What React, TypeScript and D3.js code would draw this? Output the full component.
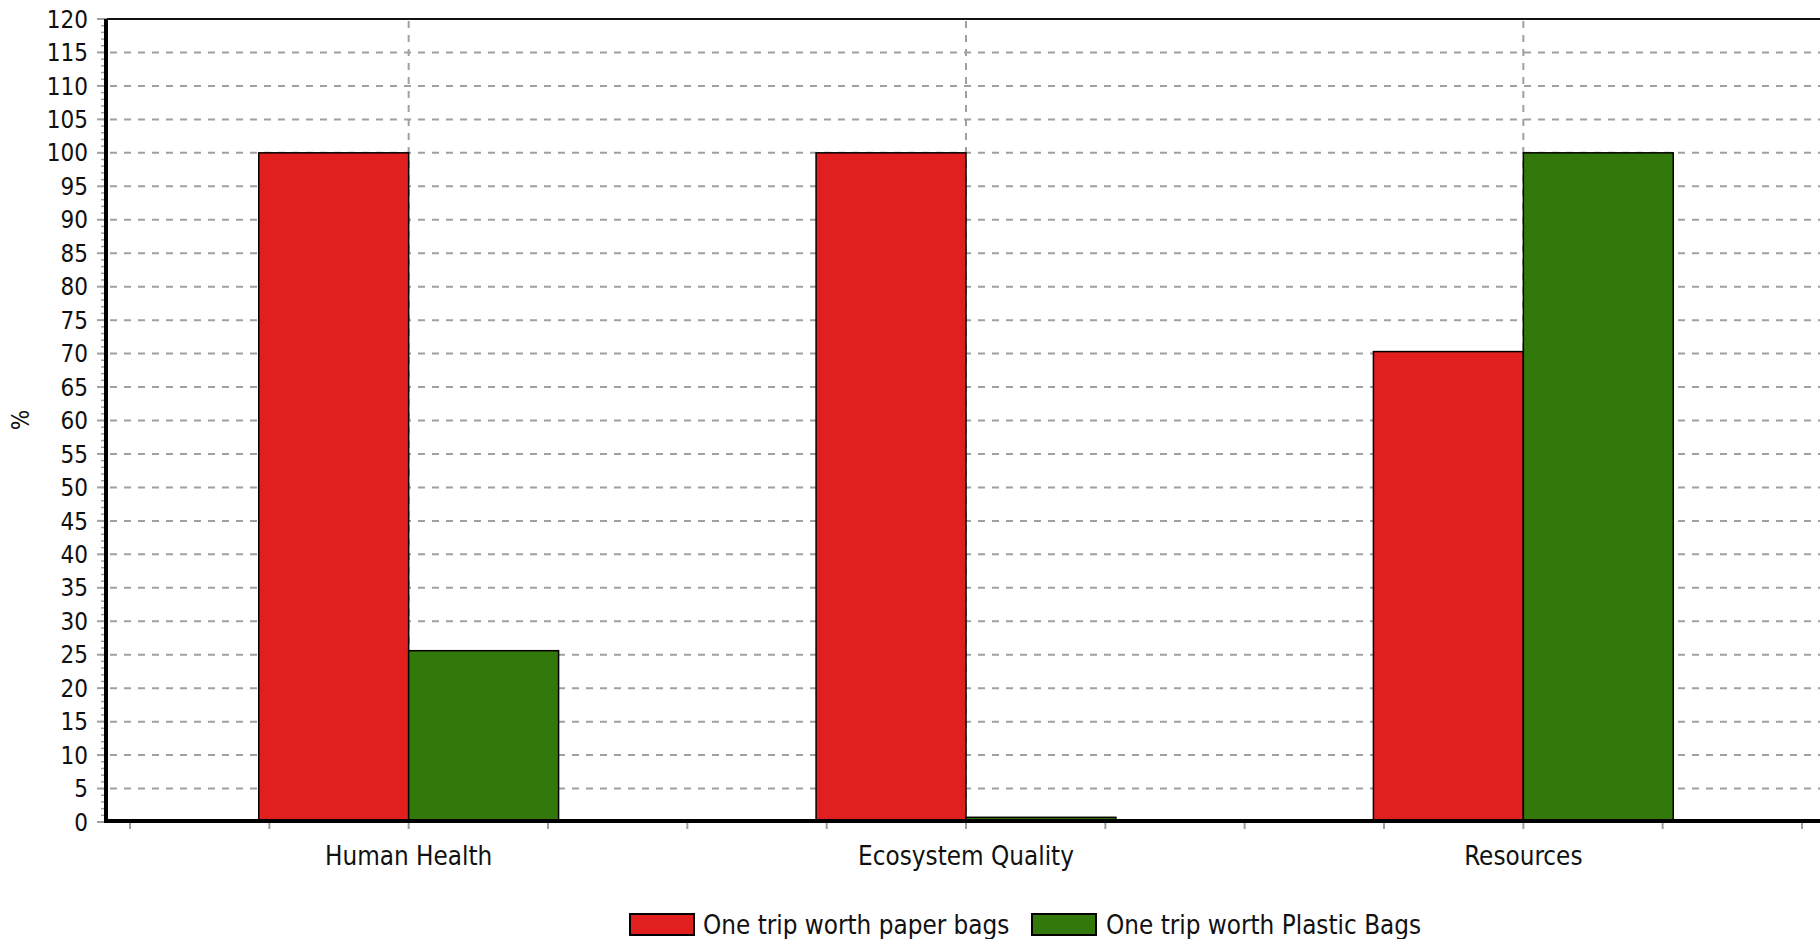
import React from 'react';
import * as d3 from 'd3';

const categories = ['Human Health', 'Ecosystem Quality', 'Resources'];
const seriesNames = ['One trip worth paper bags', 'One trip worth Plastic Bags'];
const paperValues = [100, 100, 70.3];
const plasticValues = [25.6, 0.7, 100];
const seriesColors = ['#e11f1f', '#33780b'];
const yTickValues = d3.range(0, 121, 5);
const yMinorValues = d3.range(0, 121, 1);
const yLabel = '%';

const W = 1820;
const H = 939;
const FONT = "'DejaVu Sans Condensed', 'Liberation Sans', Arial, sans-serif";
const FS = 24;
const FS_TEXT = 25.8;

export default function App() {
  const plotLeft = 107;
  const plotRight = 1825;
  const plotTop = 19;
  const plotBottom = 822;
  const bandInset = 23;

  const x = d3.scaleBand<string>().domain(categories).range([plotLeft + bandInset, plotRight - bandInset]).padding(0);
  const step = x.step();
  const barW = step * 0.269;
  const xs = d3.scaleBand<string>().domain(seriesNames).range([0, barW * 2]).padding(0);
  const y = d3.scaleLinear().domain([0, 120]).range([plotBottom, plotTop]);

  const series = [paperValues, plasticValues];

  const xTicks: number[] = [];
  for (let i = 0; i <= categories.length * 4; i++) {
    xTicks.push((x.range()[0] as number) + (i * step) / 4);
  }

  const grid = '#a0a0a0';

  return (
    <svg width={W} height={H} style={{ position: 'absolute', left: 0, top: 0, background: '#fff' }}
      fontFamily={FONT} fontSize={FS}>
      <rect x={0} y={0} width={W} height={H} fill="#fff" />
      {yTickValues.filter(v => v > 0 && v < 120).map(v => (
        <line key={'hg' + v} x1={plotLeft + 3} x2={plotRight} y1={y(v)} y2={y(v)}
          stroke={grid} strokeWidth={2} strokeDasharray="7,7" />
      ))}
      {categories.map(c => {
        const cx = (x(c) as number) + step / 2;
        return <line key={'vg' + c} x1={cx} x2={cx} y1={plotTop + 2} y2={plotBottom}
          stroke={grid} strokeWidth={2} strokeDasharray="7,7" />;
      })}
      {categories.map((c, i) => {
        const cx = (x(c) as number) + step / 2;
        return series.map((s, j) => {
          const bx = cx - barW + (xs(seriesNames[j]) as number);
          const top = y(s[i]);
          return (
            <rect key={c + j} x={bx} y={top} width={barW} height={plotBottom - top}
              fill={seriesColors[j]} stroke="#000" strokeWidth={1.5} />
          );
        });
      })}
      <line x1={plotLeft} x2={plotRight} y1={plotTop} y2={plotTop} stroke="#111" strokeWidth={2} />
      {yMinorValues.map(v => (
        <line key={'ym' + v} x1={plotLeft - 6} x2={plotLeft} y1={y(v)} y2={y(v)} stroke={grid} strokeWidth={1.5} />
      ))}
      {yTickValues.map(v => (
        <g key={'yt' + v}>
          <line x1={plotLeft - 10} x2={plotLeft} y1={y(v)} y2={y(v)} stroke={grid} strokeWidth={2} />
          <text x={88} y={y(v)} dy="0.36em" textAnchor="end" fill="#111">{v}</text>
        </g>
      ))}
      {xTicks.map((t, i) => (
        <line key={'xt' + i} x1={t} x2={t} y1={plotBottom + 1} y2={plotBottom + 7} stroke={grid} strokeWidth={2} />
      ))}
      <line x1={plotLeft - 1} x2={plotLeft - 1} y1={plotTop} y2={plotBottom + 1} stroke="#000" strokeWidth={4} />
      <line x1={plotLeft - 3} x2={plotRight} y1={plotBottom - 1} y2={plotBottom - 1} stroke="#000" strokeWidth={4} />
      {categories.map(c => (
        <text key={'cl' + c} x={(x(c) as number) + step / 2} y={865} textAnchor="middle" fill="#111" fontSize={FS_TEXT}>{c}</text>
      ))}
      <text transform={`translate(${29},${420}) rotate(-90)`} textAnchor="middle" fill="#111">{yLabel}</text>
      {[{ sx: 630, tx: 703 }, { sx: 1032, tx: 1106 }].map((p, j) => (
        <g key={'lg' + j}>
          <rect x={p.sx} y={914} width={64} height={21} fill={seriesColors[j]} stroke="#000" strokeWidth={2} />
          <text x={p.tx} y={925} dy="0.36em" fill="#111" fontSize={FS_TEXT}>{seriesNames[j]}</text>
        </g>
      ))}
    </svg>
  );
}
